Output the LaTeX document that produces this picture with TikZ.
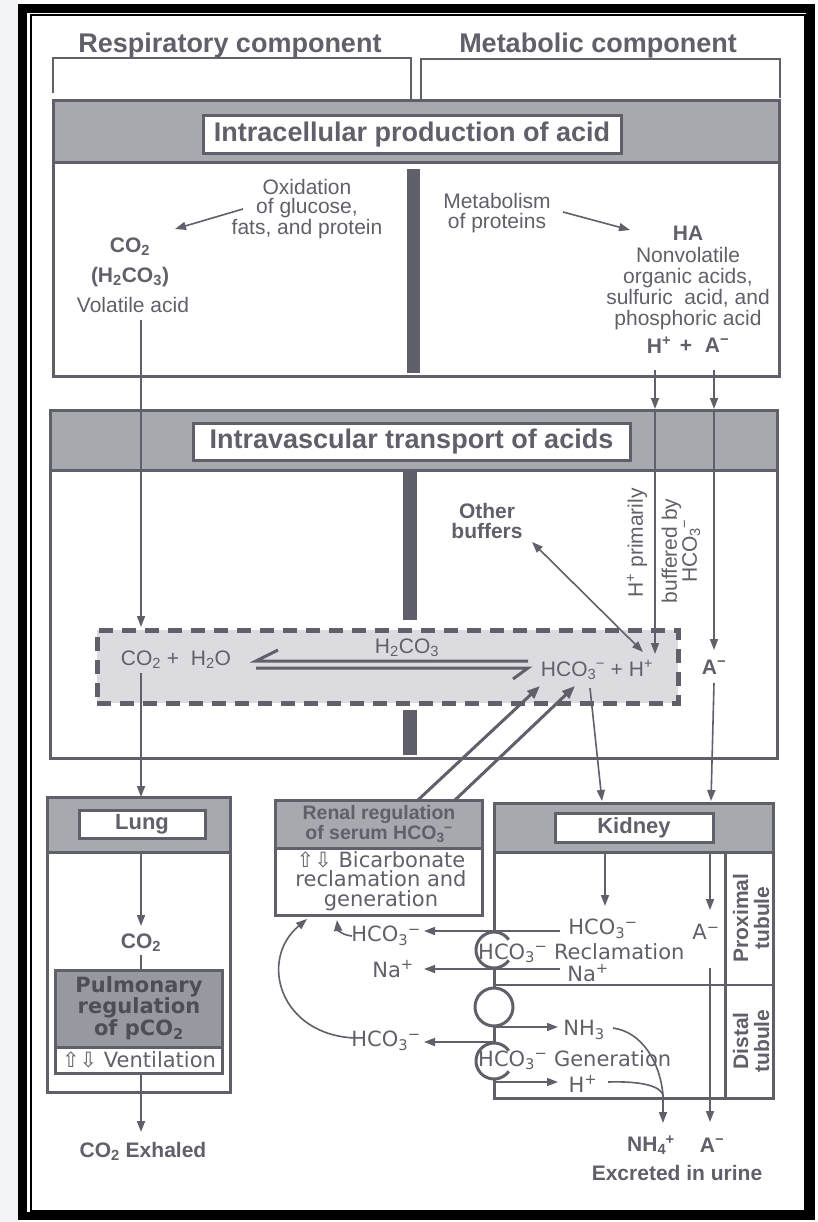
\documentclass[tikz,border=0pt]{standalone}
\usepackage{fontspec}
\setmainfont{Liberation Sans}
\newfontfamily\dv{DejaVu Sans}
\usetikzlibrary{arrows.meta}
\newcommand\sbp[2]{\textsubscript{#1}\kern-0.5pt\textsuperscript{#2}}
\newcommand\mn{\textsuperscript{−}}
\definecolor{ink}{RGB}{96,96,106}
\definecolor{band}{RGB}{168,168,175}
\definecolor{dfill}{RGB}{220,220,224}
\definecolor{pfill}{RGB}{152,152,160}
\definecolor{ptext}{RGB}{78,78,88}
\definecolor{marg}{RGB}{240,244,245}
\tikzset{
 boxnode/.style={draw=ink, line width=3pt, outer sep=0pt, inner sep=0pt, anchor=north west},
 lbl/.style={draw=ink, fill=white, line width=3pt, inner sep=0pt, outer sep=0pt, text=ink, font=\bfseries\fontsize{27}{27}\selectfont},
 lbls/.style={lbl, font=\bfseries\fontsize{22}{22}\selectfont},
 hd/.style={text=ink, inner sep=0pt, font=\bfseries\fontsize{27}{27}\selectfont},
 tx/.style={text=ink, inner sep=0pt, align=center, font=\fontsize{21}{19}\selectfont},
 tb/.style={text=ink, inner sep=0pt, align=center, font=\bfseries\fontsize{21}{20}\selectfont},
 td/.style={text=ink, inner sep=0pt, align=center, font=\dv\fontsize{21}{19.5}\selectfont},
 arr/.style={draw=ink, line width=1.6pt, -{Triangle[length=11pt,width=8pt]}},
 darr/.style={draw=ink, line width=1.6pt, {Triangle[length=11pt,width=8pt]}-{Triangle[length=11pt,width=8pt]}},
 tarr/.style={draw=ink, line width=3pt, -{Triangle[length=13pt,width=10pt]}},
 ln/.style={draw=ink, line width=1.6pt},
 ln3/.style={draw=ink, line width=3pt},
 br/.style={draw=ink, line width=2pt},
}
\begin{document}
\begin{tikzpicture}[x=1pt,y=-1pt]
\useasboundingbox (0,0) rectangle (817,1222);
\fill[white] (0,0) rectangle (817,1222);
\fill[marg] (0,0) rectangle (18,1222);
% frame
\draw[black, line width=8.5pt] (22.5,8.5) rectangle (810.5,1216);
\draw[black, line width=2pt] (30.5,15.5) rectangle (804.5,1211);
% headings and brackets
\node[hd] (resp) at (230,46) {Respiratory component};
\node[hd] (meta) at (598,46) {Metabolic component};
\draw[br] (53,93) -- (53,58) -- (411,58) -- (411,100);
\draw[br] (421,100) -- (421,59) -- (780,59) -- (780,98);

% ---------- box 1
\fill[band] (53,101) rectangle (779,163);
\draw[ln3] (53,163) -- (779,163);
\node[boxnode, minimum width=726pt, minimum height=275pt] (b1) at (53,101) {};
\node[lbl, minimum width=418pt, minimum height=38pt] (l1) at (412,135) {Intracellular production of acid};
\fill[ink] (407,169) rectangle (420,373);
\node[tx, font=\fontsize{21}{19.5}\selectfont] (oxid) at (307,209) {Oxidation\\of glucose,\\fats, and protein};
\coordinate (ox1) at (243,209);
\coordinate (ox2) at (175,229);
\draw[arr] (ox1) -- (ox2);
\node[tb] (co2a) at (130,247) {CO\textsubscript{2}};
\node[tb] (h2co3a) at (130,277) {(H\textsubscript{2}CO\textsubscript{3})};
\node[tx] (vol) at (133,305) {Volatile acid};
\node[tx, font=\fontsize{21}{19.5}\selectfont] (metab) at (497,213) {Metabolism\\of proteins};
\coordinate (mt1) at (563,212);
\coordinate (mt2) at (630,230);
\draw[arr] (mt1) -- (mt2);
\node[tb] (ha) at (688,233) {HA};
\node[tx, font=\fontsize{21}{21}\selectfont] (nonvol) at (688,289) {Nonvolatile\\organic acids,\\sulfuric\ \ acid, and\\phosphoric acid};
\node[tb] (hp) at (659,345) {H\textsuperscript{+}};
\node[tb] (plus) at (686,346) {+};
\node[tb] (am) at (717,345) {A\mn};

% ---------- box 2
\fill[band] (50,410) rectangle (777,470);
\draw[ln3] (50,470) -- (777,470);
\node[boxnode, minimum width=727pt, minimum height=348pt] (b2) at (50,410) {};
\node[lbl, minimum width=437pt, minimum height=37pt] (l2) at (411.5,441.5) {Intravascular transport of acids};
\fill[ink] (403,470) rectangle (417,620);
\fill[ink] (403,710) rectangle (417,755);
\node[boxnode, fill=dfill, line width=5pt, dash pattern=on 14pt off 9pt, minimum width=581pt, minimum height=73pt] (dbox) at (97,630) {};
\node[tx] (co2h2o) at (176,660) {CO\textsubscript{2}\ +\ \ H\textsubscript{2}O};
\node[tx] (h2co3) at (407,648) {H\textsubscript{2}CO\textsubscript{3}};
\node[tx] (hco3h) at (597,670) {HCO\sbp{3}{−}\ +\ H\textsuperscript{+}};
\draw[ink, line width=3pt] (278,650) -- (256,661) -- (528,661);
\draw[ink, line width=3pt] (256,668) -- (528,668) -- (513,679);
\node[tb] (am2) at (714,667) {A\mn};
\node[tb] (other) at (487,521) {Other\\buffers};
\coordinate (ob1) at (532,542);
\coordinate (ob2) at (643,652);
\draw[darr] (ob1) -- (ob2);
\node[tx, rotate=90] (hprim) at (637,543) {H\textsuperscript{+}\ primarily};
\node[tx, rotate=90, font=\fontsize{21}{18}\selectfont] (buff) at (681,551) {buffered by\\HCO\sbp{3}{−}};

% vertical connectors
\coordinate (v1) at (141,320);
\coordinate (v2) at (141,627);
\draw[arr] (v1) -- (v2);
\coordinate (h1) at (655,370);
\coordinate (h2) at (655,409);
\coordinate (h3) at (655,654);
\draw[arr] (h1) -- (h2);
\draw[arr] (h2) -- (h3);
\coordinate (a1) at (714,370);
\coordinate (a2) at (714,409);
\coordinate (a3) at (714,650);
\draw[arr] (a1) -- (a2);
\draw[arr] (a2) -- (a3);

% ---------- lung
\fill[band] (47,797) rectangle (230,852);
\draw[ln3] (47,852) -- (230,852);
\node[boxnode, minimum width=183pt, minimum height=295pt] (lung) at (47,797) {};
\node[lbls, minimum width=126pt, minimum height=28pt] (llung) at (142,824) {Lung};
\coordinate (c1) at (141,673);
\draw[arr] (c1) -- (lung.north -| c1);
\coordinate (lg1) at (141,852);
\coordinate (lg2) at (141,926);
\draw[arr] (lg1) -- (lg2);
\node[tb] (co2l) at (141,943) {CO\textsubscript{2}};
\fill[pfill] (55,970) rectangle (222,1047);
\draw[ln3] (55,1047) -- (222,1047);
\node[boxnode, minimum width=167pt, minimum height=103pt] (pulm) at (55,970) {};
\draw[ln] (141,955) -- (pulm.north -| lg1);
\node[text=ptext, inner sep=0pt, align=center, font=\dv\bfseries\fontsize{21}{20}\selectfont] (pulmt) at (139,1008) {Pulmonary\\regulation\\of pCO\textsubscript{2}};
\node[td] (vent) at (139,1060) {⇧⇩ Ventilation};
\coordinate (ex) at (141,1132);
\draw[arr] (pulm.south -| ex) -- (ex);
\node[tb] (exh) at (143,1151) {CO\textsubscript{2} Exhaled};

% ---------- renal regulation
\fill[band] (275,800) rectangle (482,848);
\draw[ln3] (275,848) -- (482,848);
\node[boxnode, minimum width=207pt, minimum height=115pt] (renal) at (275,800) {};
\node[tb, font=\bfseries\fontsize{19.5}{20.5}\selectfont] (rent) at (379,824) {Renal regulation\\of serum HCO\sbp{3}{−}};
\node[td] (bicarb) at (381,881) {⇧⇩ Bicarbonate\\reclamation and\\generation};
\coordinate (r1) at (418,800);
\coordinate (r2) at (540,686);
\coordinate (r3) at (455,800);
\coordinate (r4) at (575,686);
\draw[tarr] (r1) -- (r2);
\draw[tarr] (r3) -- (r4);

% ---------- kidney
\fill[band] (494,803) rectangle (773,852);
\draw[ln3] (494,852) -- (773,852);
\draw[ln3] (494,932) -- (494,803) -- (773,803) -- (773,1098) -- (494,1098) -- (494,1079);
\node[lbls, minimum width=158pt, minimum height=29pt] (lkid) at (634,827.5) {Kidney};
\draw[ln3] (725,852) -- (725,1098);
\draw[draw=ink, line width=2pt] (494,985) -- (773,985);
% transporters
\draw[ln3] (494,950) ++(35:18) arc[start angle=35, end angle=325, radius=18];
\draw[ln3] (494,968) -- (494,988);
\node[draw=ink, line width=3pt, circle, minimum size=38pt, inner sep=0pt] (pump) at (494,1007) {};
\draw[ln3] (494,1026) -- (494,1043);
\draw[ln3] (494,1061) ++(35:18) arc[start angle=35, end angle=325, radius=18];

\coordinate (k1) at (605,852);
\coordinate (k2) at (605,906);
\draw[arr] (k1) -- (k2);
\coordinate (hx) at (590,688);
\coordinate (kx) at (602,801);
\draw[arr] (hx) -- (kx);
\coordinate (ax1) at (714,683);
\coordinate (ax2) at (711,801);
\draw[arr] (ax1) -- (ax2);

\node[td] (hco3k) at (603,929) {HCO\sbp{3}{−}};
\node[td, anchor=west] (recl) at (478,953) {HCO\sbp{3}{−} Reclamation};
\node[td] (nak) at (588,973) {Na\textsuperscript{+}};
\node[td] (hco3l1) at (386,936) {HCO\sbp{3}{−}};
\node[td] (nal) at (393,969) {Na\textsuperscript{+}};
\coordinate (e1) at (560,931);
\coordinate (e2) at (424,931);
\draw[arr] (e1) -- (e2);
\coordinate (n1) at (560,969);
\coordinate (n2) at (424,969);
\draw[arr] (n1) -- (n2);
\coordinate (nh0) at (494,1027);
\coordinate (nh1) at (558,1027);
\draw[arr] (nh0) -- (nh1);
\node[td] (nh3) at (584,1030) {NH\textsubscript{3}};
\coordinate (g0) at (494,1042);
\coordinate (g1) at (424,1042);
\draw[arr] (g0) -- (g1);
\node[td] (hco3l2) at (386,1041) {HCO\sbp{3}{−}};
\node[td, anchor=west] (gen) at (478,1060) {HCO\sbp{3}{−} Generation};
\coordinate (hh0) at (494,1082);
\coordinate (hh1) at (558,1082);
\draw[arr] (hh0) -- (hh1);
\node[td] (hk) at (583,1084) {H\textsuperscript{+}};

\coordinate (m) at (663,1095);
\draw[ln] (613,1028) .. controls (642,1032) and (660,1062) .. (m);
\draw[ln] (608,1082) .. controls (642,1081) and (660,1086) .. (m);
\coordinate (m2) at (663,1123);
\draw[arr] (m) -- (m2);
\node[tb] (nh4) at (651,1145) {NH\sbp{4}{+}};
\node[tb] (am3) at (712,1145) {A\mn};
\node[tb] (excr) at (677,1173) {Excreted in urine};

\coordinate (ak1) at (710,852);
\coordinate (ak2) at (710,910);
\draw[arr] (ak1) -- (ak2);
\node[td] (amk) at (706,932) {A\mn};
\coordinate (ak3) at (710,968);
\coordinate (ak4) at (710,1122);
\draw[arr] (ak3) -- (ak4);

\node[tb, rotate=90, font=\bfseries\fontsize{21}{21}\selectfont] (prox) at (751,918) {Proximal\\tubule};
\node[tb, rotate=90, font=\bfseries\fontsize{21}{21}\selectfont] (dist) at (751,1041) {Distal\\tubule};

% return arrows to renal box
\coordinate (hk1) at (352,936);
\coordinate (hk2) at (337,920);
\draw[arr] (hk1) .. controls (342,935) and (338,930) .. (hk2);
\coordinate (bc1) at (355,1038);
\coordinate (bc2) at (307,919);
\draw[arr] (bc1) .. controls (280,1035) and (258,960) .. (bc2);
\end{tikzpicture}
\end{document}
